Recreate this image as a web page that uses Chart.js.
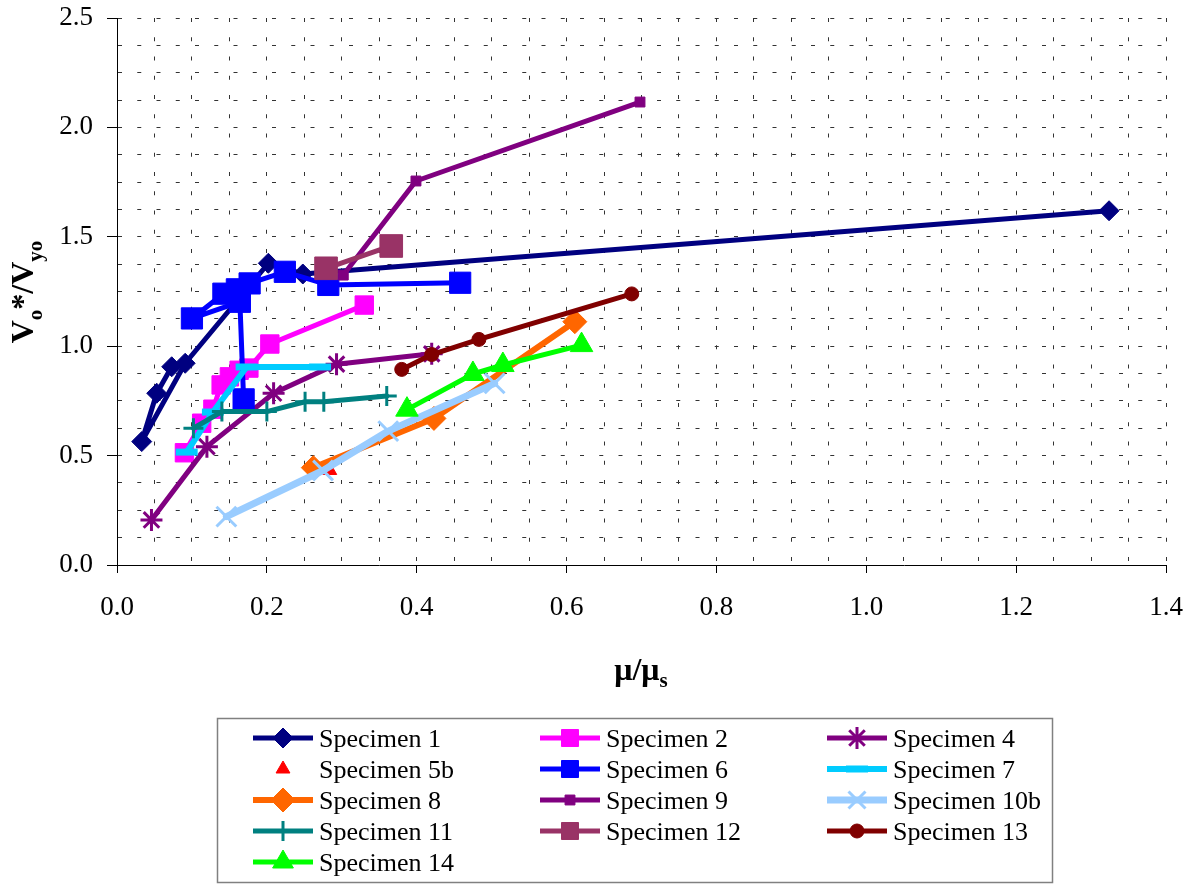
<!DOCTYPE html>
<html>
<head>
<meta charset="utf-8">
<script src="https://cdn.jsdelivr.net/npm/chart.js@4.4.0/dist/chart.umd.min.js"></script>
<style>
  html, body { margin: 0; padding: 0; background: #fff; }
  #wrap { width: 1195px; height: 884px; position: relative; }
</style>
</head>
<body>
<div id="wrap"><canvas id="myChart"></canvas></div>
<script>
// values: x = mu/mu_s, y = Vo*/Vyo
const spec1X = [0.073, 0.053, 0.033, 0.091, 0.202, 0.248, 1.324];
const spec1Y = [0.906, 0.785, 0.564, 0.922, 1.379, 1.330, 1.619];
const spec2X = [0.090, 0.113, 0.128, 0.139, 0.150, 0.163, 0.176, 0.204, 0.330];
const spec2Y = [0.513, 0.648, 0.712, 0.823, 0.860, 0.890, 0.900, 1.010, 1.188];
const spec4X = [0.046, 0.120, 0.209, 0.293, 0.420];
const spec4Y = [0.206, 0.541, 0.785, 0.918, 0.965];
const spec5bX = [0.284];
const spec5bY = [0.432];
const spec6X = [0.169, 0.164, 0.100, 0.142, 0.160, 0.177, 0.224, 0.282, 0.458];
const spec6Y = [0.757, 1.203, 1.127, 1.240, 1.260, 1.287, 1.340, 1.280, 1.290];
const spec7X = [0.093, 0.128, 0.173, 0.271];
const spec7Y = [0.516, 0.699, 0.905, 0.905];
const spec8X = [0.262, 0.423, 0.611];
const spec8Y = [0.445, 0.670, 1.112];
const spec9X = [0.302, 0.399, 0.698];
const spec9Y = [1.325, 1.755, 2.116];
const spec10bX = [0.146, 0.275, 0.362, 0.504];
const spec10bY = [0.221, 0.432, 0.612, 0.830];
const spec11X = [0.102, 0.140, 0.200, 0.251, 0.276, 0.360];
const spec11Y = [0.625, 0.701, 0.701, 0.746, 0.746, 0.772];
const spec12X = [0.279, 0.366];
const spec12Y = [1.356, 1.458];
const spec13X = [0.380, 0.420, 0.483, 0.687];
const spec13Y = [0.894, 0.962, 1.031, 1.239];
const spec14X = [0.387, 0.475, 0.515, 0.620];
const spec14Y = [0.710, 0.873, 0.914, 1.005];

const xTickLabels = ['0.0', '0.2', '0.4', '0.6', '0.8', '1.0', '1.2', '1.4'];
const yTickLabels = ['0.0', '0.5', '1.0', '1.5', '2.0', '2.5'];

const SERIF = '"Liberation Serif", "Times New Roman", serif';

// look of each series (Excel style markers)
const series = [
  { label: 'Specimen 1',   xs: spec1X,   ys: spec1Y,   color: '#000080', style: 'rectRot',  r: 10, pbw: 1,   lw: 5 },
  { label: 'Specimen 2',   xs: spec2X,   ys: spec2Y,   color: '#FF00FF', style: 'rect',     r: 13, pbw: 1,   lw: 5 },
  { label: 'Specimen 4',   xs: spec4X,   ys: spec4Y,   color: '#800080', style: 'star',     r: 11, pbw: 3,   lw: 5 },
  { label: 'Specimen 5b',  xs: spec5bX,  ys: spec5bY,  color: '#FF0000', style: 'triangle', r: 8,  pbw: 1,   lw: 0 },
  { label: 'Specimen 6',   xs: spec6X,   ys: spec6Y,   color: '#0000FF', style: 'rect',     r: 15, pbw: 1,   lw: 5 },
  { label: 'Specimen 7',   xs: spec7X,   ys: spec7Y,   color: '#00CCFF', style: 'line',     r: 11, pbw: 7,   lw: 6 },
  { label: 'Specimen 8',   xs: spec8X,   ys: spec8Y,   color: '#FF6600', style: 'rectRot',  r: 12, pbw: 1,   lw: 6 },
  { label: 'Specimen 9',   xs: spec9X,   ys: spec9Y,   color: '#800080', style: 'rect',     r: 7,  pbw: 1,   lw: 5 },
  { label: 'Specimen 10b', xs: spec10bX, ys: spec10bY, color: '#99CCFF', style: 'crossRot', r: 14, pbw: 3,   lw: 7 },
  { label: 'Specimen 11',  xs: spec11X,  ys: spec11Y,  color: '#008080', style: 'cross',    r: 10, pbw: 3,   lw: 5 },
  { label: 'Specimen 12',  xs: spec12X,  ys: spec12Y,  color: '#993366', style: 'rect',     r: 16, pbw: 1,   lw: 5 },
  { label: 'Specimen 13',  xs: spec13X,  ys: spec13Y,  color: '#800000', style: 'circle',   r: 7,  pbw: 1,   lw: 5 },
  { label: 'Specimen 14',  xs: spec14X,  ys: spec14Y,  color: '#00FF00', style: 'triangle', r: 13, pbw: 1,   lw: 5 }
];

const datasets = series.map((s, i) => ({
  label: s.label,
  data: s.xs.map((x, k) => ({ x: x, y: s.ys[k] })),
  showLine: s.lw > 0,
  borderColor: s.color,
  backgroundColor: s.color,
  borderWidth: s.lw,
  borderJoinStyle: 'round',
  borderCapStyle: 'round',
  pointStyle: s.style,
  pointRadius: s.r,
  pointBorderWidth: s.pbw,
  pointBorderColor: s.color,
  pointBackgroundColor: s.color,
  tension: 0,
  order: series.length - i // first series at the bottom, like Excel
}));

function isMult(v, step) {
  const q = v / step;
  return Math.abs(q - Math.round(q)) < 1e-6;
}

function labelFor(v, step, list) {
  if (!isMult(v, step)) return '';
  return list[Math.round(v / step)] || '';
}

// text with subscripts, centred on cx
function drawRich(ctx, parts, cx, y) {
  let w = 0;
  parts.forEach(p => { ctx.font = p.f; w += ctx.measureText(p.t).width; });
  let x = cx - w / 2;
  ctx.textAlign = 'left';
  ctx.textBaseline = 'alphabetic';
  parts.forEach(p => {
    ctx.font = p.f;
    ctx.fillText(p.t, x, y + (p.dy || 0));
    x += ctx.measureText(p.t).width;
  });
}

const extras = {
  id: 'extras',
  afterDraw(chart) {
    const ctx = chart.ctx;
    const big = 'bold 32px ' + SERIF;
    const sub = 'bold 21px ' + SERIF;
    ctx.save();
    ctx.fillStyle = '#000';

    // x title
    drawRich(ctx, [{ t: 'μ/μ', f: big }, { t: 's', f: sub, dy: 7 }], 641, 680);

    // y title
    ctx.save();
    ctx.translate(33, 292);
    ctx.rotate(-Math.PI / 2);
    drawRich(ctx, [
      { t: 'V', f: big }, { t: 'o', f: sub, dy: 9 },
      { t: '*/V', f: big }, { t: 'yo', f: sub, dy: 9 }
    ], 0, 0);
    ctx.restore();

    // legend box
    ctx.strokeStyle = '#808080';
    ctx.lineWidth = 1.5;
    ctx.strokeRect(217.5, 718.5, 835, 164);

    const colX = [253, 540, 827];
    series.forEach((s, i) => {
      const col = i % 3;
      const row = Math.floor(i / 3);
      const x0 = colX[col];
      const y = 738 + row * 31;
      const cx = x0 + 30;
      if (s.lw > 0) {
        ctx.strokeStyle = s.color;
        ctx.lineWidth = s.lw;
        ctx.beginPath();
        ctx.moveTo(x0, y);
        ctx.lineTo(x0 + 60, y);
        ctx.stroke();
      }
      ctx.fillStyle = s.color;
      ctx.strokeStyle = s.color;
      ctx.lineWidth = s.pbw;
      Chart.helpers.drawPoint(ctx, { pointStyle: s.style, radius: Math.min(s.r, 12), borderWidth: s.pbw, rotation: 0 }, cx, y);
      ctx.fillStyle = '#000';
      ctx.font = '26px ' + SERIF;
      ctx.textAlign = 'left';
      ctx.textBaseline = 'alphabetic';
      ctx.fillText(s.label, x0 + 66, y + 9);
    });
    ctx.restore();
  }
};

Chart.defaults.font.family = SERIF;
Chart.defaults.color = '#000';

new Chart(document.getElementById('myChart'), {
  type: 'scatter',
  data: { datasets: datasets },
  plugins: [extras],
  options: {
    responsive: true,
    maintainAspectRatio: false,
    animation: false,
    layout: { padding: { top: 18, right: 29, left: 0, bottom: 0 } },
    plugins: {
      legend: { display: false },
      tooltip: { enabled: false }
    },
    scales: {
      x: {
        type: 'linear',
        min: 0,
        max: 1.4,
        afterFit: s => {
          s.height = 884 - 565;
          s.paddingLeft = 0;
          s.paddingRight = 0;
        },
        ticks: {
          stepSize: 0.05,
          autoSkip: false,
          maxRotation: 0,
          padding: 19,
          font: { size: 27 },
          callback: v => labelFor(v, 0.2, xTickLabels)
        },
        grid: {
          color: '#333',
          lineWidth: 1,
          tickLength: 8,
          tickColor: c => (c.tick && isMult(c.tick.value, 0.2)) ? '#000' : 'rgba(0,0,0,0)'
        },
        border: { display: true, color: '#000', width: 1, dash: [4, 15.25] }
      },
      y: {
        type: 'linear',
        min: 0,
        max: 2.5,
        afterFit: s => {
          s.width = 117;
          s.paddingTop = 0;
          s.paddingBottom = 0;
        },
        ticks: {
          stepSize: 0.125,
          autoSkip: false,
          padding: 14,
          font: { size: 27 },
          callback: v => labelFor(v, 0.5, yTickLabels)
        },
        grid: {
          color: '#333',
          lineWidth: 1,
          tickLength: 10,
          tickColor: c => (c.tick && isMult(c.tick.value, 0.5)) ? '#000' : 'rgba(0,0,0,0)'
        },
        border: { display: true, color: '#000', width: 1, dash: [4, 15.25] }
      }
    }
  }
});
</script>
</body>
</html>
